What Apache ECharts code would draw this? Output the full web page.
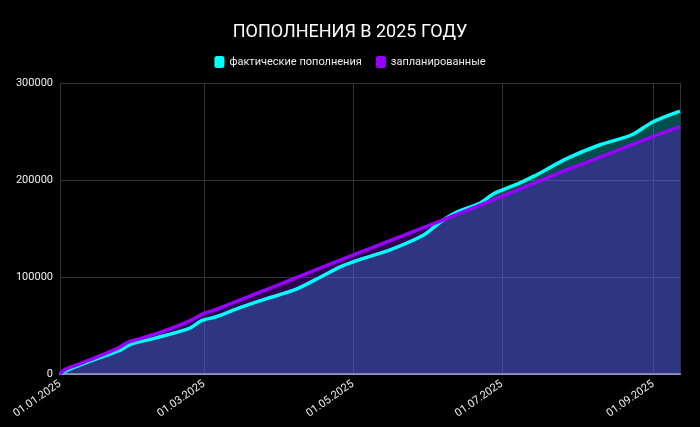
<!DOCTYPE html>
<html>
<head>
<meta charset="utf-8">
<script src="https://cdn.jsdelivr.net/npm/echarts@6/dist/echarts.min.js"></script>
<style>
html,body{margin:0;padding:0;background:#000;}
#chart{width:700px;height:427px;}
</style>
</head>
<body>
<div id="chart"></div>
<script>
const titleText = 'ПОПОЛНЕНИЯ В 2025 ГОДУ';
const seriesNames = ['фактические пополнения', 'запланированные'];

const actualDates = ['2025-01-01','2025-01-07','2025-01-26','2025-01-28','2025-01-31','2025-02-09','2025-02-23','2025-02-28','2025-03-06','2025-03-16','2025-03-27','2025-04-07','2025-04-18','2025-04-26','2025-05-04','2025-05-16','2025-05-30','2025-06-06','2025-06-13','2025-06-22','2025-06-28','2025-07-08','2025-07-14','2025-07-28','2025-08-10','2025-08-23','2025-09-01','2025-09-12'];
const actualValues = [0,7000,25000,28000,31500,37000,47000,55000,59000,68700,78000,86600,100300,110600,118200,127800,143300,157000,167400,176000,186300,196600,203700,222500,236100,246400,260100,271100];

const plannedDates = ['2025-01-01','2025-01-03','2025-01-08','2025-01-16','2025-01-25','2025-01-29','2025-01-31','2025-02-10','2025-02-22','2025-02-26','2025-03-01','2025-03-06','2025-04-01','2025-05-01','2025-06-01','2025-07-01','2025-07-28','2025-08-01','2025-09-01','2025-09-12'];
const plannedValues = [0,4500,9500,17500,27000,33000,34500,42000,53500,58500,62500,66500,92500,122500,153000,183000,211000,214500,245000,255000];

const xMin = '2025-01-01';
const xMax = '2025-09-12';
const yTicks = [0, 100000, 200000, 300000];

const colors = ['#00ffff', '#9900ff'];

function pairs(d, v){ return d.map((x,i)=>[x, v[i]]); }
function pad(n){ return (n<10?'0':'')+n; }

const chart = echarts.init(document.getElementById('chart'));
chart.setOption({
  backgroundColor: '#000',
  textStyle: { fontFamily: 'Roboto' },
  title: {
    text: titleText, left: 'center', top: 18,
    textStyle: { color: '#fff', fontSize: 18, fontWeight: 'normal', fontFamily: 'Roboto' }
  },
  legend: {
    top: 51, left: 'center', itemWidth: 10, itemHeight: 12, itemGap: 14,
    icon: 'roundRect',
    textStyle: { color: '#eee', fontSize: 11, fontFamily: 'Roboto' },
    data: seriesNames
  },
  grid: { left: 60, right: 20, top: 83, bottom: 53, containLabel: false },
  xAxis: {
    type: 'time', min: xMin, max: xMax, splitNumber: 4,
    axisLine: { show: true, lineStyle: { color: '#999', width: 2 } },
    axisTick: { show: false },
    splitLine: { show: true, lineStyle: { color: '#333', width: 1 } },
    axisLabel: {
      color: '#eee', fontSize: 11, rotate: 35, margin: 9,
      formatter: function(val){
        const d = new Date(val);
        return pad(d.getDate()) + '.' + pad(d.getMonth()+1) + '.' + d.getFullYear();
      }
    }
  },
  yAxis: {
    type: 'value', min: yTicks[0], max: yTicks[yTicks.length-1], interval: yTicks[1]-yTicks[0],
    axisLine: { show: false }, axisTick: { show: false },
    splitLine: { lineStyle: { color: '#333', width: 1 } },
    axisLabel: { color: '#eee', fontSize: 11, margin: 7, formatter: function(v){ return String(v); } }
  },
  series: [
    {
      name: seriesNames[0], type: 'line', smooth: 0.3, showSymbol: false, symbol: 'none',
      data: pairs(actualDates, actualValues),
      itemStyle: { color: colors[0] },
      lineStyle: { color: colors[0], width: 3.5 },
      areaStyle: { color: colors[0], opacity: 0.3 }
    },
    {
      name: seriesNames[1], type: 'line', smooth: 0.3, showSymbol: false, symbol: 'none',
      data: pairs(plannedDates, plannedValues),
      itemStyle: { color: colors[1] },
      lineStyle: { color: colors[1], width: 3.5 },
      areaStyle: { color: colors[1], opacity: 0.3 }
    }
  ]
});
</script>
</body>
</html>
